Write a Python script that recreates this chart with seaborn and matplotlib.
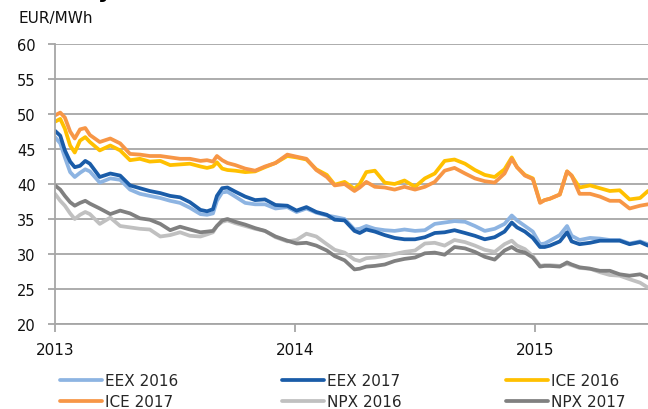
import matplotlib
matplotlib.use("Agg")
import matplotlib.pyplot as plt
import seaborn as sns
import pandas as pd

dates = ["2013-01-01","2013-01-09","2013-01-16","2013-01-24","2013-01-31","2013-02-08","2013-02-16","2013-02-23",
         "2013-03-10","2013-03-26","2013-04-10","2013-04-25","2013-05-10","2013-05-25","2013-06-10","2013-06-25",
         "2013-07-10","2013-07-25","2013-08-10","2013-08-20","2013-08-29","2013-09-04","2013-09-12","2013-09-20",
         "2013-10-02","2013-10-17","2013-11-01","2013-11-16","2013-12-02","2013-12-20","2014-01-03","2014-01-18",
         "2014-02-02","2014-02-18","2014-03-02","2014-03-17","2014-04-01","2014-04-09","2014-04-19","2014-05-02",
         "2014-05-17","2014-06-01","2014-06-16","2014-07-02","2014-07-17","2014-08-01","2014-08-16","2014-08-31",
         "2014-09-16","2014-10-01","2014-10-16","2014-10-31","2014-11-15","2014-11-26","2014-12-04","2014-12-16",
         "2014-12-28","2015-01-08","2015-01-15","2015-01-23","2015-02-07","2015-02-18","2015-02-25","2015-03-09",
         "2015-03-25","2015-04-09","2015-04-24","2015-05-09","2015-05-24","2015-06-09","2015-06-21"]

eex_2016 = [46.7, 45.8, 43.8, 41.7, 41.0, 41.6, 42.1, 41.8, 40.2, 40.8, 40.6, 39.2, 38.6, 38.3, 38.0, 37.6,
            37.3, 36.6, 35.7, 35.6, 35.8, 37.6, 38.8, 38.9, 38.2, 37.3, 37.1, 37.1, 36.5, 36.7, 36.0, 36.5,
            35.9, 35.5, 35.3, 35.0, 33.5, 33.6, 34.0, 33.6, 33.4, 33.3, 33.5, 33.3, 33.4, 34.3, 34.5, 34.7,
            34.6, 34.0, 33.3, 33.6, 34.3, 35.5, 34.8, 34.0, 33.2, 31.4, 31.5, 31.9, 32.7, 34.0, 32.6, 32.0,
            32.3, 32.2, 32.0, 32.0, 31.5, 31.8, 31.4]
eex_2017 = [47.6, 46.9, 44.8, 43.2, 42.4, 42.6, 43.3, 42.9, 41.0, 41.5, 41.2, 39.8, 39.4, 39.0, 38.7, 38.3,
            38.1, 37.4, 36.3, 36.1, 36.4, 38.3, 39.4, 39.5, 38.9, 38.2, 37.7, 37.8, 37.0, 36.9, 36.2, 36.7,
            36.0, 35.6, 34.9, 34.8, 33.3, 33.0, 33.5, 33.2, 32.7, 32.3, 32.1, 32.1, 32.4, 33.0, 33.1, 33.4,
            33.0, 32.6, 32.1, 32.4, 33.2, 34.5, 33.8, 33.2, 32.3, 31.0, 31.0, 31.2, 31.8, 33.1, 31.8, 31.4,
            31.6, 31.9, 31.9, 31.9, 31.4, 31.7, 31.2]
ice_2016 = [48.9, 49.3, 47.9, 45.5, 44.5, 46.2, 46.7, 46.0, 44.8, 45.5, 44.8, 43.4, 43.6, 43.2, 43.3, 42.7,
            42.8, 42.9, 42.5, 42.3, 42.5, 43.1, 42.2, 42.0, 41.9, 41.7, 41.8, 42.4, 43.0, 44.0, 43.8, 43.5,
            42.1, 41.3, 39.9, 40.3, 39.3, 40.0, 41.7, 41.9, 40.2, 40.0, 40.5, 39.6, 40.8, 41.5, 43.3, 43.5,
            42.9, 42.0, 41.3, 41.0, 42.1, 43.8, 42.4, 41.3, 40.8, 37.4, 37.7, 37.9, 38.5, 41.8, 41.2, 39.5,
            39.8, 39.4, 39.0, 39.1, 37.8, 38.0, 39.0]
ice_2017 = [49.8, 50.2, 49.5, 47.5, 46.5, 47.8, 48.0, 47.0, 46.0, 46.5, 45.8, 44.3, 44.2, 44.0, 44.0, 43.8,
            43.6, 43.6, 43.3, 43.4, 43.2, 44.0, 43.4, 43.0, 42.7, 42.2, 41.9, 42.5, 43.0, 44.2, 43.9, 43.6,
            42.0, 41.0, 39.8, 40.0, 39.0, 39.5, 40.3, 39.6, 39.5, 39.2, 39.6, 39.2, 39.6, 40.3, 41.9, 42.3,
            41.5, 40.8, 40.4, 40.2, 41.5, 43.6, 42.4, 41.2, 40.7, 37.3, 37.7, 37.9, 38.5, 41.8, 41.2, 38.6,
            38.6, 38.2, 37.6, 37.6, 36.5, 36.9, 37.1]
npx_2016 = [38.6, 37.6, 36.9, 35.8, 35.0, 35.6, 36.0, 35.7, 34.3, 35.2, 34.0, 33.8, 33.6, 33.5, 32.5, 32.7,
            33.1, 32.6, 32.5, 32.8, 33.1, 34.0, 34.6, 34.8, 34.4, 34.0, 33.6, 33.3, 32.4, 31.8, 32.0, 32.9,
            32.5, 31.4, 30.6, 30.2, 29.2, 29.0, 29.4, 29.5, 29.7, 30.0, 30.3, 30.5, 31.5, 31.6, 31.2, 32.0,
            31.7, 31.2, 30.6, 30.3, 31.4, 31.9, 31.2, 30.7, 29.7, 28.3, 28.4, 28.4, 28.3, 28.6, 28.4, 28.0,
            27.9, 27.4, 27.0, 26.9, 26.4, 25.9, 25.2]
npx_2017 = [39.8, 39.2, 38.3, 37.4, 36.9, 37.3, 37.6, 37.2, 36.5, 35.7, 36.2, 35.8, 35.1, 34.9, 34.3, 33.4,
            33.9, 33.5, 33.1, 33.2, 33.3, 34.0, 34.8, 35.0, 34.6, 34.2, 33.7, 33.3, 32.5, 31.9, 31.5, 31.6,
            31.2, 30.5, 29.7, 29.1, 27.8, 27.9, 28.2, 28.3, 28.5, 29.0, 29.3, 29.5, 30.1, 30.2, 29.9, 31.0,
            30.8, 30.3, 29.6, 29.2, 30.5, 31.0, 30.5, 30.2, 29.5, 28.2, 28.3, 28.3, 28.2, 28.8, 28.5, 28.1,
            27.9, 27.6, 27.6, 27.1, 26.9, 27.1, 26.6]

series_names = ["EEX 2016", "EEX 2017", "ICE 2016", "ICE 2017", "NPX 2016", "NPX 2017"]
series_values = [eex_2016, eex_2017, ice_2016, ice_2017, npx_2016, npx_2017]
colors = ["#8DB4E2", "#1A5CA8", "#FFC000", "#F79646", "#C0C0C0", "#808080"]
year_ticks = ["2013-01-01", "2014-01-01", "2015-01-01"]
year_labels = ["2013", "2014", "2015"]

rows = []
for name, vals in zip(series_names, series_values):
    for d, v in zip(dates, vals):
        rows.append({"date": pd.Timestamp(d), "value": v, "series": name})
df = pd.DataFrame(rows)

sns.set_theme(style="white")
plt.rcParams["font.family"] = ["DejaVu Sans"]

fig = plt.figure(figsize=(6.48, 4.10), dpi=100)
ax = fig.add_axes([55/648, 1 - 325/410, 1 - 55/648, (325 - 45)/410])

sns.lineplot(data=df, x="date", y="value", hue="series", hue_order=series_names,
             palette=colors, linewidth=2.7, legend=False, ax=ax)

ax.set_ylim(20, 60)
ax.set_yticks(range(20, 61, 5))
ax.set_xlim(pd.Timestamp("2013-01-01"), pd.Timestamp("2015-06-21"))
ax.set_xticks([pd.Timestamp(t) for t in year_ticks])
ax.set_xticklabels(year_labels)
ax.set_xlabel("")
ax.set_ylabel("")
ax.grid(axis="y", color="#A6A6A6", linewidth=1.3)
ax.grid(axis="x", visible=False)
ax.set_axisbelow(True)
for s in ["top", "right"]:
    ax.spines[s].set_visible(False)
for s in ["left", "bottom"]:
    ax.spines[s].set_color("#A6A6A6")
    ax.spines[s].set_linewidth(1.3)
ax.tick_params(axis="y", length=5, width=1.3, color="#A6A6A6", pad=9, labelsize=10.5, labelcolor="#111111")
ax.tick_params(axis="x", length=6, width=1.3, color="#A6A6A6", pad=7, labelsize=11, labelcolor="#111111")
ax.tick_params(axis="both", which="both", left=True, bottom=True)

fig.text(18/648, 1 - 18/410, "EUR/MWh", fontsize=11, va="center", ha="left", color="#111111")
fig.text(112/648, 1 + 2/410, "Electricity", fontsize=16, fontweight="bold", ha="right", va="baseline", color="black")

lines = ax.get_lines()
order = [0, 3, 1, 4, 2, 5]
handles = [lines[i] for i in order]
labels = [series_names[i] for i in order]
fig.legend(handles, labels, ncol=3, loc="upper left", bbox_to_anchor=(60/648, 1 - 374/410),
           frameon=False, fontsize=11, handlelength=2.75, handletextpad=0.2, columnspacing=6.8,
           labelspacing=0.42, borderaxespad=0, borderpad=0)

fig.savefig("out.png", dpi=100)
